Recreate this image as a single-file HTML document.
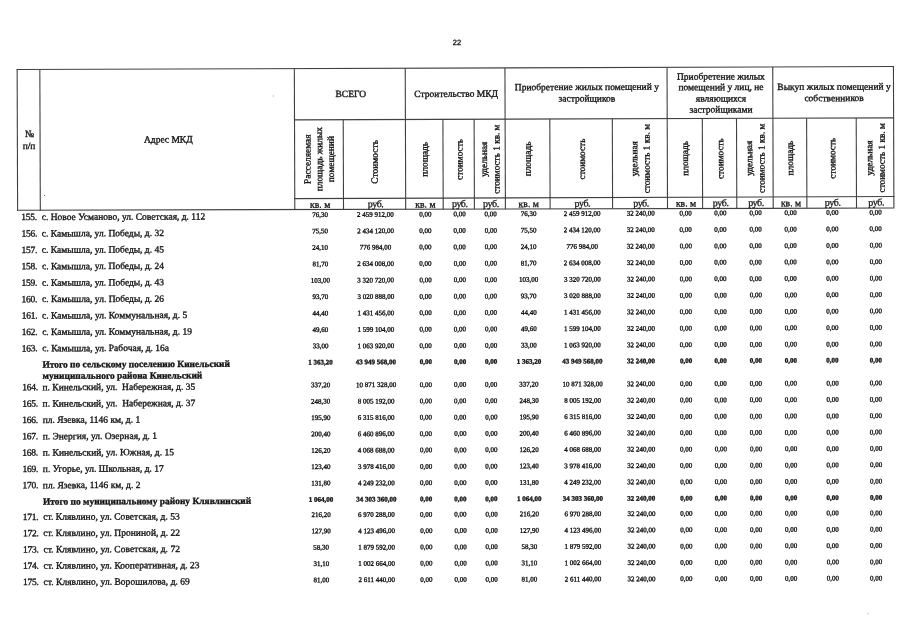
<!DOCTYPE html>
<html lang="ru"><head><meta charset="utf-8"><title>22</title>
<style>
html,body{margin:0;padding:0;background:#fff}
body{width:905px;height:640px;overflow:hidden}
svg{display:block;font-family:"Liberation Serif",serif}
text{white-space:pre}
.b{font-weight:bold}
.s{font-family:"Liberation Sans",sans-serif}
</style></head><body>
<svg width="905" height="640" viewBox="0 0 905 640">
<g transform="rotate(-0.195)">
<g fill="#404040">
<rect x="16.35" y="69.05" width="877.4" height="1.1"/>
<rect x="293.55" y="120.35" width="600.2" height="1.1"/>
<rect x="293.55" y="199.05" width="600.2" height="1.1"/>
<path d="M16.4 210.3L893.7 211.1" stroke="#404040" stroke-width="1.1" fill="none"/>
<rect x="16.35" y="69.6" width="1.1" height="141.3"/>
<rect x="39.05" y="69.6" width="1.1" height="141.3"/>
<rect x="293.55" y="69.6" width="1.1" height="141.3"/>
<rect x="342.25" y="120.9" width="1.1" height="90"/>
<rect x="404.45" y="69.6" width="1.1" height="141.3"/>
<rect x="441.95" y="120.9" width="1.1" height="90"/>
<rect x="473.15" y="120.9" width="1.1" height="90"/>
<rect x="504.15" y="69.6" width="1.1" height="141.3"/>
<rect x="548.85" y="120.9" width="1.1" height="90"/>
<rect x="611.35" y="120.9" width="1.1" height="90"/>
<rect x="666.25" y="69.6" width="1.1" height="141.3"/>
<rect x="701.35" y="120.9" width="1.1" height="90"/>
<rect x="735.55" y="120.9" width="1.1" height="90"/>
<rect x="771.95" y="69.6" width="1.1" height="141.3"/>
<rect x="805.65" y="120.9" width="1.1" height="90"/>
<rect x="855.25" y="120.9" width="1.1" height="90"/>
<rect x="892.65" y="69.6" width="1.1" height="141.3"/>
<rect x="272.5" y="96.5" width="1" height="1" fill="#888"/>
<rect x="43.4" y="195.1" width="1" height="1" fill="#666"/>
<rect x="865.5" y="616.3" width="1" height="1" fill="#999"/>
</g>
<g fill="#151515" stroke="#151515" stroke-width="0.35">
<text x="456.85" y="46.5" font-size="7.5" text-anchor="middle" class="s">22</text>
<text x="29.15" y="137.2" font-size="9.5" text-anchor="middle">№</text>
<text x="28.55" y="149" font-size="9.5" text-anchor="middle">п/п</text>
<text x="167.85" y="143" font-size="9.5" text-anchor="middle">Адрес МКД</text>
<text x="350.45" y="98.2" font-size="9.5" text-anchor="middle">ВСЕГО</text>
<text x="455.85" y="98.4" font-size="9.5" text-anchor="middle">Строительство МКД</text>
<text x="586.55" y="92" font-size="9.5" text-anchor="middle">Приобретение жилых помещений у</text>
<text x="586.55" y="103.5" font-size="9.5" text-anchor="middle">застройщиков</text>
<text x="720.65" y="82" font-size="9.5" text-anchor="middle">Приобретение жилых</text>
<text x="720.65" y="92.6" font-size="9.5" text-anchor="middle">помещений у лиц, не</text>
<text x="720.65" y="104" font-size="9.5" text-anchor="middle">являющихся</text>
<text x="720.65" y="115" font-size="9.5" text-anchor="middle">застройщиками</text>
<text x="833.75" y="92.6" font-size="9.5" text-anchor="middle" style="letter-spacing:0.02px">Выкуп жилых помещений у</text>
<text x="833.75" y="104" font-size="9.5" text-anchor="middle">собственников</text>
<text transform="translate(309.95 160.25) rotate(-90)" font-size="9.4" text-anchor="middle">Расселяемая</text>
<text transform="translate(321.65 160.25) rotate(-90)" font-size="9.4" text-anchor="middle">площадь жилых</text>
<text transform="translate(333.35 160.25) rotate(-90)" font-size="9.4" text-anchor="middle">помещений</text>
<text transform="translate(377.2 163.15) rotate(-90)" font-size="9.5" text-anchor="middle">Стоимость</text>
<text transform="translate(426.95 160.75) rotate(-90)" font-size="9.4" text-anchor="middle">площадь</text>
<text transform="translate(461.9 161.05) rotate(-90)" font-size="9.3" text-anchor="middle">стоимость</text>
<text transform="translate(486.5 160.85) rotate(-90)" font-size="9.25" text-anchor="middle">удельная</text>
<text transform="translate(498.9 160.85) rotate(-90)" font-size="9.25" text-anchor="middle">стоимость 1 кв. м</text>
<text transform="translate(530.25 160.75) rotate(-90)" font-size="9.4" text-anchor="middle">площадь</text>
<text transform="translate(584.45 161.05) rotate(-90)" font-size="9.3" text-anchor="middle">стоимость</text>
<text transform="translate(636.65 160.85) rotate(-90)" font-size="9.25" text-anchor="middle">удельная</text>
<text transform="translate(649.05 160.85) rotate(-90)" font-size="9.25" text-anchor="middle">стоимость 1 кв. м</text>
<text transform="translate(687.55 160.75) rotate(-90)" font-size="9.4" text-anchor="middle">площадь</text>
<text transform="translate(722.8 161.05) rotate(-90)" font-size="9.3" text-anchor="middle">стоимость</text>
<text transform="translate(751.6 160.85) rotate(-90)" font-size="9.25" text-anchor="middle">удельная</text>
<text transform="translate(764 160.85) rotate(-90)" font-size="9.25" text-anchor="middle">стоимость 1 кв. м</text>
<text transform="translate(792.55 160.75) rotate(-90)" font-size="9.4" text-anchor="middle">площадь</text>
<text transform="translate(834.8 161.05) rotate(-90)" font-size="9.3" text-anchor="middle">стоимость</text>
<text transform="translate(871.8 160.85) rotate(-90)" font-size="9.25" text-anchor="middle">удельная</text>
<text transform="translate(884.2 160.85) rotate(-90)" font-size="9.25" text-anchor="middle">стоимость 1 кв. м</text>
<text x="319.45" y="208.9" font-size="9.7" text-anchor="middle" style="stroke-width:0.3">кв. м</text>
<text x="374.9" y="208.6" font-size="10" text-anchor="middle" style="letter-spacing:-0.4px;stroke-width:0.28">руб.</text>
<text x="424.75" y="208.9" font-size="9.7" text-anchor="middle" style="stroke-width:0.3">кв. м</text>
<text x="459.1" y="208.6" font-size="10" text-anchor="middle" style="letter-spacing:-0.4px;stroke-width:0.28">руб.</text>
<text x="490.2" y="208.6" font-size="10" text-anchor="middle" style="letter-spacing:-0.4px;stroke-width:0.28">руб.</text>
<text x="528.05" y="208.9" font-size="9.7" text-anchor="middle" style="stroke-width:0.3">кв. м</text>
<text x="581.65" y="208.6" font-size="10" text-anchor="middle" style="letter-spacing:-0.4px;stroke-width:0.28">руб.</text>
<text x="640.35" y="208.6" font-size="10" text-anchor="middle" style="letter-spacing:-0.4px;stroke-width:0.28">руб.</text>
<text x="685.35" y="208.9" font-size="9.7" text-anchor="middle" style="stroke-width:0.3">кв. м</text>
<text x="720" y="208.6" font-size="10" text-anchor="middle" style="letter-spacing:-0.4px;stroke-width:0.28">руб.</text>
<text x="755.3" y="208.6" font-size="10" text-anchor="middle" style="letter-spacing:-0.4px;stroke-width:0.28">руб.</text>
<text x="790.35" y="208.9" font-size="9.7" text-anchor="middle" style="stroke-width:0.3">кв. м</text>
<text x="832" y="208.6" font-size="10" text-anchor="middle" style="letter-spacing:-0.4px;stroke-width:0.28">руб.</text>
<text x="875.5" y="208.6" font-size="10" text-anchor="middle" style="letter-spacing:-0.4px;stroke-width:0.28">руб.</text>
<text x="20.6" y="220.2" font-size="9.5" style="letter-spacing:-0.25px">155.</text>
<text x="41" y="220.2" font-size="9.5">с. Новое Усманово, ул. Советская, д. 112</text>
<text x="319.35" y="218.02" font-size="7" text-anchor="middle">76,30</text>
<text x="374.76" y="217.98" font-size="7" text-anchor="middle">2 459 912,00</text>
<text x="424.57" y="217.94" font-size="7" text-anchor="middle">0,00</text>
<text x="458.9" y="217.92" font-size="7" text-anchor="middle">0,00</text>
<text x="489.98" y="217.89" font-size="7" text-anchor="middle">0,00</text>
<text x="527.8" y="217.87" font-size="7" text-anchor="middle">76,30</text>
<text x="581.36" y="217.83" font-size="7" text-anchor="middle">2 459 912,00</text>
<text x="640.02" y="217.78" font-size="7" text-anchor="middle">32 240,00</text>
<text x="684.99" y="217.75" font-size="7" text-anchor="middle">0,00</text>
<text x="719.61" y="217.72" font-size="7" text-anchor="middle">0,00</text>
<text x="754.89" y="217.7" font-size="7" text-anchor="middle">0,00</text>
<text x="789.91" y="217.67" font-size="7" text-anchor="middle">0,00</text>
<text x="831.53" y="217.64" font-size="7" text-anchor="middle">0,00</text>
<text x="875" y="217.61" font-size="7" text-anchor="middle">0,00</text>
<text x="20.6" y="236.61" font-size="9.5" style="letter-spacing:-0.25px">156.</text>
<text x="41" y="236.61" font-size="9.5">с. Камышла, ул. Победы, д. 32</text>
<text x="319.35" y="234.45" font-size="7" text-anchor="middle">75,50</text>
<text x="374.76" y="234.41" font-size="7" text-anchor="middle">2 434 120,00</text>
<text x="424.57" y="234.37" font-size="7" text-anchor="middle">0,00</text>
<text x="458.89" y="234.35" font-size="7" text-anchor="middle">0,00</text>
<text x="489.97" y="234.33" font-size="7" text-anchor="middle">0,00</text>
<text x="527.79" y="234.3" font-size="7" text-anchor="middle">75,50</text>
<text x="581.35" y="234.26" font-size="7" text-anchor="middle">2 434 120,00</text>
<text x="640" y="234.22" font-size="7" text-anchor="middle">32 240,00</text>
<text x="684.96" y="234.19" font-size="7" text-anchor="middle">0,00</text>
<text x="719.59" y="234.17" font-size="7" text-anchor="middle">0,00</text>
<text x="754.86" y="234.14" font-size="7" text-anchor="middle">0,00</text>
<text x="789.88" y="234.12" font-size="7" text-anchor="middle">0,00</text>
<text x="831.5" y="234.09" font-size="7" text-anchor="middle">0,00</text>
<text x="874.96" y="234.06" font-size="7" text-anchor="middle">0,00</text>
<text x="20.6" y="253.02" font-size="9.5" style="letter-spacing:-0.25px">157.</text>
<text x="41" y="253.02" font-size="9.5">с. Камышла, ул. Победы, д. 45</text>
<text x="319.35" y="250.87" font-size="7" text-anchor="middle">24,10</text>
<text x="374.75" y="250.84" font-size="7" text-anchor="middle">776 984,00</text>
<text x="424.56" y="250.8" font-size="7" text-anchor="middle">0,00</text>
<text x="458.88" y="250.78" font-size="7" text-anchor="middle">0,00</text>
<text x="489.96" y="250.76" font-size="7" text-anchor="middle">0,00</text>
<text x="527.77" y="250.74" font-size="7" text-anchor="middle">24,10</text>
<text x="581.33" y="250.7" font-size="7" text-anchor="middle">776 984,00</text>
<text x="639.98" y="250.66" font-size="7" text-anchor="middle">32 240,00</text>
<text x="684.94" y="250.63" font-size="7" text-anchor="middle">0,00</text>
<text x="719.56" y="250.61" font-size="7" text-anchor="middle">0,00</text>
<text x="754.83" y="250.59" font-size="7" text-anchor="middle">0,00</text>
<text x="789.85" y="250.57" font-size="7" text-anchor="middle">0,00</text>
<text x="831.47" y="250.54" font-size="7" text-anchor="middle">0,00</text>
<text x="874.93" y="250.51" font-size="7" text-anchor="middle">0,00</text>
<text x="20.6" y="269.43" font-size="9.5" style="letter-spacing:-0.25px">158.</text>
<text x="41" y="269.43" font-size="9.5">с. Камышла, ул. Победы, д. 24</text>
<text x="319.35" y="267.3" font-size="7" text-anchor="middle">81,70</text>
<text x="374.75" y="267.26" font-size="7" text-anchor="middle">2 634 008,00</text>
<text x="424.55" y="267.23" font-size="7" text-anchor="middle">0,00</text>
<text x="458.87" y="267.21" font-size="7" text-anchor="middle">0,00</text>
<text x="489.95" y="267.19" font-size="7" text-anchor="middle">0,00</text>
<text x="527.76" y="267.17" font-size="7" text-anchor="middle">81,70</text>
<text x="581.31" y="267.14" font-size="7" text-anchor="middle">2 634 008,00</text>
<text x="639.96" y="267.1" font-size="7" text-anchor="middle">32 240,00</text>
<text x="684.92" y="267.08" font-size="7" text-anchor="middle">0,00</text>
<text x="719.54" y="267.06" font-size="7" text-anchor="middle">0,00</text>
<text x="754.8" y="267.03" font-size="7" text-anchor="middle">0,00</text>
<text x="789.82" y="267.01" font-size="7" text-anchor="middle">0,00</text>
<text x="831.43" y="266.99" font-size="7" text-anchor="middle">0,00</text>
<text x="874.89" y="266.96" font-size="7" text-anchor="middle">0,00</text>
<text x="20.6" y="285.84" font-size="9.5" style="letter-spacing:-0.25px">159.</text>
<text x="41" y="285.84" font-size="9.5">с. Камышла, ул. Победы, д. 43</text>
<text x="319.35" y="283.72" font-size="7" text-anchor="middle">103,00</text>
<text x="374.75" y="283.69" font-size="7" text-anchor="middle">3 320 720,00</text>
<text x="424.55" y="283.67" font-size="7" text-anchor="middle">0,00</text>
<text x="458.86" y="283.65" font-size="7" text-anchor="middle">0,00</text>
<text x="489.93" y="283.63" font-size="7" text-anchor="middle">0,00</text>
<text x="527.75" y="283.61" font-size="7" text-anchor="middle">103,00</text>
<text x="581.3" y="283.58" font-size="7" text-anchor="middle">3 320 720,00</text>
<text x="639.94" y="283.54" font-size="7" text-anchor="middle">32 240,00</text>
<text x="684.89" y="283.52" font-size="7" text-anchor="middle">0,00</text>
<text x="719.51" y="283.5" font-size="7" text-anchor="middle">0,00</text>
<text x="754.78" y="283.48" font-size="7" text-anchor="middle">0,00</text>
<text x="789.79" y="283.46" font-size="7" text-anchor="middle">0,00</text>
<text x="831.4" y="283.44" font-size="7" text-anchor="middle">0,00</text>
<text x="874.86" y="283.41" font-size="7" text-anchor="middle">0,00</text>
<text x="20.6" y="302.25" font-size="9.5" style="letter-spacing:-0.25px">160.</text>
<text x="41" y="302.25" font-size="9.5">с. Камышла, ул. Победы, д. 26</text>
<text x="319.35" y="300.15" font-size="7" text-anchor="middle">93,70</text>
<text x="374.74" y="300.12" font-size="7" text-anchor="middle">3 020 888,00</text>
<text x="424.54" y="300.1" font-size="7" text-anchor="middle">0,00</text>
<text x="458.86" y="300.08" font-size="7" text-anchor="middle">0,00</text>
<text x="489.92" y="300.06" font-size="7" text-anchor="middle">0,00</text>
<text x="527.73" y="300.04" font-size="7" text-anchor="middle">93,70</text>
<text x="581.28" y="300.02" font-size="7" text-anchor="middle">3 020 888,00</text>
<text x="639.92" y="299.99" font-size="7" text-anchor="middle">32 240,00</text>
<text x="684.87" y="299.96" font-size="7" text-anchor="middle">0,00</text>
<text x="719.49" y="299.94" font-size="7" text-anchor="middle">0,00</text>
<text x="754.75" y="299.93" font-size="7" text-anchor="middle">0,00</text>
<text x="789.76" y="299.91" font-size="7" text-anchor="middle">0,00</text>
<text x="831.37" y="299.89" font-size="7" text-anchor="middle">0,00</text>
<text x="874.82" y="299.86" font-size="7" text-anchor="middle">0,00</text>
<text x="20.6" y="318.66" font-size="9.5" style="letter-spacing:-0.25px">161.</text>
<text x="41" y="318.66" font-size="9.5">с. Камышла, ул. Коммунальная, д. 5</text>
<text x="319.35" y="316.58" font-size="7" text-anchor="middle">44,40</text>
<text x="374.74" y="316.55" font-size="7" text-anchor="middle">1 431 456,00</text>
<text x="424.53" y="316.53" font-size="7" text-anchor="middle">0,00</text>
<text x="458.85" y="316.51" font-size="7" text-anchor="middle">0,00</text>
<text x="489.91" y="316.5" font-size="7" text-anchor="middle">0,00</text>
<text x="527.72" y="316.48" font-size="7" text-anchor="middle">44,40</text>
<text x="581.26" y="316.45" font-size="7" text-anchor="middle">1 431 456,00</text>
<text x="639.9" y="316.43" font-size="7" text-anchor="middle">32 240,00</text>
<text x="684.85" y="316.4" font-size="7" text-anchor="middle">0,00</text>
<text x="719.46" y="316.39" font-size="7" text-anchor="middle">0,00</text>
<text x="754.72" y="316.37" font-size="7" text-anchor="middle">0,00</text>
<text x="789.73" y="316.36" font-size="7" text-anchor="middle">0,00</text>
<text x="831.34" y="316.34" font-size="7" text-anchor="middle">0,00</text>
<text x="874.79" y="316.32" font-size="7" text-anchor="middle">0,00</text>
<text x="20.6" y="335.07" font-size="9.5" style="letter-spacing:-0.25px">162.</text>
<text x="41" y="335.07" font-size="9.5">с. Камышла, ул. Коммунальная, д. 19</text>
<text x="319.35" y="333" font-size="7" text-anchor="middle">49,60</text>
<text x="374.74" y="332.98" font-size="7" text-anchor="middle">1 599 104,00</text>
<text x="424.53" y="332.96" font-size="7" text-anchor="middle">0,00</text>
<text x="458.84" y="332.94" font-size="7" text-anchor="middle">0,00</text>
<text x="489.9" y="332.93" font-size="7" text-anchor="middle">0,00</text>
<text x="527.71" y="332.91" font-size="7" text-anchor="middle">49,60</text>
<text x="581.25" y="332.89" font-size="7" text-anchor="middle">1 599 104,00</text>
<text x="639.88" y="332.87" font-size="7" text-anchor="middle">32 240,00</text>
<text x="684.83" y="332.85" font-size="7" text-anchor="middle">0,00</text>
<text x="719.43" y="332.83" font-size="7" text-anchor="middle">0,00</text>
<text x="754.69" y="332.82" font-size="7" text-anchor="middle">0,00</text>
<text x="789.7" y="332.8" font-size="7" text-anchor="middle">0,00</text>
<text x="831.3" y="332.78" font-size="7" text-anchor="middle">0,00</text>
<text x="874.75" y="332.77" font-size="7" text-anchor="middle">0,00</text>
<text x="20.6" y="351.48" font-size="9.5" style="letter-spacing:-0.25px">163.</text>
<text x="41" y="351.48" font-size="9.5">с. Камышла, ул. Рабочая, д. 16а</text>
<text x="319.35" y="349.43" font-size="7" text-anchor="middle">33,00</text>
<text x="374.73" y="349.41" font-size="7" text-anchor="middle">1 063 920,00</text>
<text x="424.52" y="349.39" font-size="7" text-anchor="middle">0,00</text>
<text x="458.83" y="349.38" font-size="7" text-anchor="middle">0,00</text>
<text x="489.89" y="349.36" font-size="7" text-anchor="middle">0,00</text>
<text x="527.7" y="349.35" font-size="7" text-anchor="middle">33,00</text>
<text x="581.23" y="349.33" font-size="7" text-anchor="middle">1 063 920,00</text>
<text x="639.86" y="349.31" font-size="7" text-anchor="middle">32 240,00</text>
<text x="684.8" y="349.29" font-size="7" text-anchor="middle">0,00</text>
<text x="719.41" y="349.28" font-size="7" text-anchor="middle">0,00</text>
<text x="754.67" y="349.26" font-size="7" text-anchor="middle">0,00</text>
<text x="789.67" y="349.25" font-size="7" text-anchor="middle">0,00</text>
<text x="831.27" y="349.23" font-size="7" text-anchor="middle">0,00</text>
<text x="874.72" y="349.22" font-size="7" text-anchor="middle">0,00</text>
<text x="41.2" y="367.6" font-size="9.43" class="b">Итого по сельскому поселению Кинельский</text>
<text x="41.2" y="379" font-size="9.43" class="b">муниципального района Кинельский</text>
<text x="319.35" y="365.57" font-size="7" text-anchor="middle" class="b">1 363,20</text>
<text x="374.73" y="365.55" font-size="7" text-anchor="middle" class="b">43 949 568,00</text>
<text x="424.52" y="365.53" font-size="7" text-anchor="middle" class="b">0,00</text>
<text x="458.82" y="365.52" font-size="7" text-anchor="middle" class="b">0,00</text>
<text x="489.88" y="365.51" font-size="7" text-anchor="middle" class="b">0,00</text>
<text x="527.68" y="365.5" font-size="7" text-anchor="middle" class="b">1 363,20</text>
<text x="581.21" y="365.48" font-size="7" text-anchor="middle" class="b">43 949 568,00</text>
<text x="639.84" y="365.46" font-size="7" text-anchor="middle" class="b">32 240,00</text>
<text x="684.78" y="365.44" font-size="7" text-anchor="middle" class="b">0,00</text>
<text x="719.38" y="365.43" font-size="7" text-anchor="middle" class="b">0,00</text>
<text x="754.64" y="365.42" font-size="7" text-anchor="middle" class="b">0,00</text>
<text x="789.64" y="365.41" font-size="7" text-anchor="middle" class="b">0,00</text>
<text x="831.24" y="365.39" font-size="7" text-anchor="middle" class="b">0,00</text>
<text x="874.68" y="365.38" font-size="7" text-anchor="middle" class="b">0,00</text>
<text x="20.8" y="390.4" font-size="9.5" style="letter-spacing:-0.25px">164.</text>
<text x="41.2" y="390.4" font-size="9.5">п. Кинельский, ул.&#160; Набережная, д. 35</text>
<text x="319.35" y="388.39" font-size="7" text-anchor="middle">337,20</text>
<text x="374.72" y="388.37" font-size="7" text-anchor="middle">10 871 328,00</text>
<text x="424.51" y="388.36" font-size="7" text-anchor="middle">0,00</text>
<text x="458.81" y="388.35" font-size="7" text-anchor="middle">0,00</text>
<text x="489.87" y="388.34" font-size="7" text-anchor="middle">0,00</text>
<text x="527.66" y="388.33" font-size="7" text-anchor="middle">337,20</text>
<text x="581.19" y="388.32" font-size="7" text-anchor="middle">10 871 328,00</text>
<text x="639.81" y="388.3" font-size="7" text-anchor="middle">32 240,00</text>
<text x="684.75" y="388.29" font-size="7" text-anchor="middle">0,00</text>
<text x="719.35" y="388.28" font-size="7" text-anchor="middle">0,00</text>
<text x="754.6" y="388.27" font-size="7" text-anchor="middle">0,00</text>
<text x="789.6" y="388.26" font-size="7" text-anchor="middle">0,00</text>
<text x="831.2" y="388.25" font-size="7" text-anchor="middle">0,00</text>
<text x="874.64" y="388.23" font-size="7" text-anchor="middle">0,00</text>
<text x="20.8" y="406.73" font-size="9.5" style="letter-spacing:-0.25px">165.</text>
<text x="41.2" y="406.73" font-size="9.5">п. Кинельский, ул.&#160; Набережная, д. 37</text>
<text x="319.35" y="404.73" font-size="7" text-anchor="middle">248,30</text>
<text x="374.72" y="404.72" font-size="7" text-anchor="middle">8 005 192,00</text>
<text x="424.5" y="404.71" font-size="7" text-anchor="middle">0,00</text>
<text x="458.8" y="404.7" font-size="7" text-anchor="middle">0,00</text>
<text x="489.86" y="404.7" font-size="7" text-anchor="middle">0,00</text>
<text x="527.65" y="404.69" font-size="7" text-anchor="middle">248,30</text>
<text x="581.17" y="404.67" font-size="7" text-anchor="middle">8 005 192,00</text>
<text x="639.79" y="404.66" font-size="7" text-anchor="middle">32 240,00</text>
<text x="684.72" y="404.65" font-size="7" text-anchor="middle">0,00</text>
<text x="719.32" y="404.64" font-size="7" text-anchor="middle">0,00</text>
<text x="754.57" y="404.63" font-size="7" text-anchor="middle">0,00</text>
<text x="789.57" y="404.63" font-size="7" text-anchor="middle">0,00</text>
<text x="831.16" y="404.62" font-size="7" text-anchor="middle">0,00</text>
<text x="874.6" y="404.61" font-size="7" text-anchor="middle">0,00</text>
<text x="20.8" y="423.06" font-size="9.5" style="letter-spacing:-0.25px">166.</text>
<text x="41.2" y="423.06" font-size="9.5">пл. Язевка, 1146 км, д. 1</text>
<text x="319.35" y="421.08" font-size="7" text-anchor="middle">195,90</text>
<text x="374.72" y="421.07" font-size="7" text-anchor="middle">6 315 816,00</text>
<text x="424.49" y="421.06" font-size="7" text-anchor="middle">0,00</text>
<text x="458.79" y="421.05" font-size="7" text-anchor="middle">0,00</text>
<text x="489.84" y="421.05" font-size="7" text-anchor="middle">0,00</text>
<text x="527.64" y="421.04" font-size="7" text-anchor="middle">195,90</text>
<text x="581.16" y="421.03" font-size="7" text-anchor="middle">6 315 816,00</text>
<text x="639.77" y="421.02" font-size="7" text-anchor="middle">32 240,00</text>
<text x="684.7" y="421.01" font-size="7" text-anchor="middle">0,00</text>
<text x="719.3" y="421.01" font-size="7" text-anchor="middle">0,00</text>
<text x="754.55" y="421" font-size="7" text-anchor="middle">0,00</text>
<text x="789.54" y="420.99" font-size="7" text-anchor="middle">0,00</text>
<text x="831.13" y="420.98" font-size="7" text-anchor="middle">0,00</text>
<text x="874.57" y="420.98" font-size="7" text-anchor="middle">0,00</text>
<text x="20.8" y="439.39" font-size="9.5" style="letter-spacing:-0.25px">167.</text>
<text x="41.2" y="439.39" font-size="9.5">п. Энергия, ул. Озерная, д. 1</text>
<text x="319.35" y="437.43" font-size="7" text-anchor="middle">200,40</text>
<text x="374.71" y="437.42" font-size="7" text-anchor="middle">6 460 896,00</text>
<text x="424.49" y="437.41" font-size="7" text-anchor="middle">0,00</text>
<text x="458.78" y="437.41" font-size="7" text-anchor="middle">0,00</text>
<text x="489.83" y="437.4" font-size="7" text-anchor="middle">0,00</text>
<text x="527.62" y="437.4" font-size="7" text-anchor="middle">200,40</text>
<text x="581.14" y="437.39" font-size="7" text-anchor="middle">6 460 896,00</text>
<text x="639.75" y="437.38" font-size="7" text-anchor="middle">32 240,00</text>
<text x="684.68" y="437.37" font-size="7" text-anchor="middle">0,00</text>
<text x="719.27" y="437.37" font-size="7" text-anchor="middle">0,00</text>
<text x="754.52" y="437.36" font-size="7" text-anchor="middle">0,00</text>
<text x="789.51" y="437.36" font-size="7" text-anchor="middle">0,00</text>
<text x="831.1" y="437.35" font-size="7" text-anchor="middle">0,00</text>
<text x="874.53" y="437.35" font-size="7" text-anchor="middle">0,00</text>
<text x="20.8" y="455.72" font-size="9.5" style="letter-spacing:-0.25px">168.</text>
<text x="41.2" y="455.72" font-size="9.5">п. Кинельский, ул. Южная, д. 15</text>
<text x="319.35" y="453.77" font-size="7" text-anchor="middle">126,20</text>
<text x="374.71" y="453.77" font-size="7" text-anchor="middle">4 068 688,00</text>
<text x="424.48" y="453.76" font-size="7" text-anchor="middle">0,00</text>
<text x="458.77" y="453.76" font-size="7" text-anchor="middle">0,00</text>
<text x="489.82" y="453.76" font-size="7" text-anchor="middle">0,00</text>
<text x="527.61" y="453.75" font-size="7" text-anchor="middle">126,20</text>
<text x="581.12" y="453.75" font-size="7" text-anchor="middle">4 068 688,00</text>
<text x="639.73" y="453.74" font-size="7" text-anchor="middle">32 240,00</text>
<text x="684.66" y="453.74" font-size="7" text-anchor="middle">0,00</text>
<text x="719.25" y="453.73" font-size="7" text-anchor="middle">0,00</text>
<text x="754.49" y="453.73" font-size="7" text-anchor="middle">0,00</text>
<text x="789.48" y="453.73" font-size="7" text-anchor="middle">0,00</text>
<text x="831.07" y="453.72" font-size="7" text-anchor="middle">0,00</text>
<text x="874.5" y="453.72" font-size="7" text-anchor="middle">0,00</text>
<text x="20.8" y="472.05" font-size="9.5" style="letter-spacing:-0.25px">169.</text>
<text x="41.2" y="472.05" font-size="9.5">п. Угорье, ул. Школьная, д. 17</text>
<text x="319.35" y="470.12" font-size="7" text-anchor="middle">123,40</text>
<text x="374.71" y="470.12" font-size="7" text-anchor="middle">3 978 416,00</text>
<text x="424.47" y="470.11" font-size="7" text-anchor="middle">0,00</text>
<text x="458.76" y="470.11" font-size="7" text-anchor="middle">0,00</text>
<text x="489.81" y="470.11" font-size="7" text-anchor="middle">0,00</text>
<text x="527.6" y="470.11" font-size="7" text-anchor="middle">123,40</text>
<text x="581.11" y="470.11" font-size="7" text-anchor="middle">3 978 416,00</text>
<text x="639.71" y="470.1" font-size="7" text-anchor="middle">32 240,00</text>
<text x="684.63" y="470.1" font-size="7" text-anchor="middle">0,00</text>
<text x="719.22" y="470.1" font-size="7" text-anchor="middle">0,00</text>
<text x="754.46" y="470.1" font-size="7" text-anchor="middle">0,00</text>
<text x="789.45" y="470.09" font-size="7" text-anchor="middle">0,00</text>
<text x="831.03" y="470.09" font-size="7" text-anchor="middle">0,00</text>
<text x="874.46" y="470.09" font-size="7" text-anchor="middle">0,00</text>
<text x="20.8" y="488.38" font-size="9.5" style="letter-spacing:-0.25px">170.</text>
<text x="41.2" y="488.38" font-size="9.5">пл. Язевка, 1146 км, д. 2</text>
<text x="319.35" y="486.47" font-size="7" text-anchor="middle">131,80</text>
<text x="374.7" y="486.47" font-size="7" text-anchor="middle">4 249 232,00</text>
<text x="424.47" y="486.47" font-size="7" text-anchor="middle">0,00</text>
<text x="458.76" y="486.46" font-size="7" text-anchor="middle">0,00</text>
<text x="489.8" y="486.46" font-size="7" text-anchor="middle">0,00</text>
<text x="527.59" y="486.46" font-size="7" text-anchor="middle">131,80</text>
<text x="581.09" y="486.46" font-size="7" text-anchor="middle">4 249 232,00</text>
<text x="639.69" y="486.46" font-size="7" text-anchor="middle">32 240,00</text>
<text x="684.61" y="486.46" font-size="7" text-anchor="middle">0,00</text>
<text x="719.2" y="486.46" font-size="7" text-anchor="middle">0,00</text>
<text x="754.44" y="486.46" font-size="7" text-anchor="middle">0,00</text>
<text x="789.43" y="486.46" font-size="7" text-anchor="middle">0,00</text>
<text x="831" y="486.46" font-size="7" text-anchor="middle">0,00</text>
<text x="874.43" y="486.46" font-size="7" text-anchor="middle">0,00</text>
<text x="41.2" y="504.7" font-size="9.43" class="b">Итого по муниципальному району Клявлинский</text>
<text x="319.35" y="502.8" font-size="7" text-anchor="middle" class="b">1 064,00</text>
<text x="374.7" y="502.8" font-size="7" text-anchor="middle" class="b">34 303 360,00</text>
<text x="424.46" y="502.81" font-size="7" text-anchor="middle" class="b">0,00</text>
<text x="458.75" y="502.81" font-size="7" text-anchor="middle" class="b">0,00</text>
<text x="489.79" y="502.81" font-size="7" text-anchor="middle" class="b">0,00</text>
<text x="527.57" y="502.81" font-size="7" text-anchor="middle" class="b">1 064,00</text>
<text x="581.07" y="502.81" font-size="7" text-anchor="middle" class="b">34 303 360,00</text>
<text x="639.67" y="502.81" font-size="7" text-anchor="middle" class="b">32 240,00</text>
<text x="684.59" y="502.81" font-size="7" text-anchor="middle" class="b">0,00</text>
<text x="719.17" y="502.82" font-size="7" text-anchor="middle" class="b">0,00</text>
<text x="754.41" y="502.82" font-size="7" text-anchor="middle" class="b">0,00</text>
<text x="789.4" y="502.82" font-size="7" text-anchor="middle" class="b">0,00</text>
<text x="830.97" y="502.82" font-size="7" text-anchor="middle" class="b">0,00</text>
<text x="874.39" y="502.82" font-size="7" text-anchor="middle" class="b">0,00</text>
<text x="21.1" y="520" font-size="9.5" style="letter-spacing:-0.25px">171.</text>
<text x="41.5" y="520" font-size="9.5" style="letter-spacing:0.03px">ст. Клявлино, ул. Советская, д. 53</text>
<text x="319.35" y="518.12" font-size="7" text-anchor="middle">216,20</text>
<text x="374.7" y="518.12" font-size="7" text-anchor="middle">6 970 288,00</text>
<text x="424.45" y="518.13" font-size="7" text-anchor="middle">0,00</text>
<text x="458.74" y="518.13" font-size="7" text-anchor="middle">0,00</text>
<text x="489.78" y="518.13" font-size="7" text-anchor="middle">0,00</text>
<text x="527.56" y="518.13" font-size="7" text-anchor="middle">216,20</text>
<text x="581.06" y="518.14" font-size="7" text-anchor="middle">6 970 288,00</text>
<text x="639.65" y="518.14" font-size="7" text-anchor="middle">32 240,00</text>
<text x="684.56" y="518.14" font-size="7" text-anchor="middle">0,00</text>
<text x="719.15" y="518.15" font-size="7" text-anchor="middle">0,00</text>
<text x="754.38" y="518.15" font-size="7" text-anchor="middle">0,00</text>
<text x="789.37" y="518.15" font-size="7" text-anchor="middle">0,00</text>
<text x="830.94" y="518.16" font-size="7" text-anchor="middle">0,00</text>
<text x="874.36" y="518.16" font-size="7" text-anchor="middle">0,00</text>
<text x="21.1" y="536.28" font-size="9.5" style="letter-spacing:-0.25px">172.</text>
<text x="41.5" y="536.28" font-size="9.5" style="letter-spacing:0.03px">ст. Клявлино, ул. Прониной, д. 22</text>
<text x="319.35" y="534.41" font-size="7" text-anchor="middle">127,90</text>
<text x="374.69" y="534.42" font-size="7" text-anchor="middle">4 123 496,00</text>
<text x="424.45" y="534.43" font-size="7" text-anchor="middle">0,00</text>
<text x="458.73" y="534.43" font-size="7" text-anchor="middle">0,00</text>
<text x="489.77" y="534.43" font-size="7" text-anchor="middle">0,00</text>
<text x="527.55" y="534.44" font-size="7" text-anchor="middle">127,90</text>
<text x="581.04" y="534.44" font-size="7" text-anchor="middle">4 123 496,00</text>
<text x="639.63" y="534.45" font-size="7" text-anchor="middle">32 240,00</text>
<text x="684.54" y="534.46" font-size="7" text-anchor="middle">0,00</text>
<text x="719.12" y="534.46" font-size="7" text-anchor="middle">0,00</text>
<text x="754.36" y="534.47" font-size="7" text-anchor="middle">0,00</text>
<text x="789.34" y="534.47" font-size="7" text-anchor="middle">0,00</text>
<text x="830.91" y="534.47" font-size="7" text-anchor="middle">0,00</text>
<text x="874.32" y="534.48" font-size="7" text-anchor="middle">0,00</text>
<text x="21.1" y="552.56" font-size="9.5" style="letter-spacing:-0.25px">173.</text>
<text x="41.5" y="552.56" font-size="9.5" style="letter-spacing:0.03px">ст. Клявлино, ул. Советская, д. 72</text>
<text x="319.35" y="550.71" font-size="7" text-anchor="middle">58,30</text>
<text x="374.69" y="550.72" font-size="7" text-anchor="middle">1 879 592,00</text>
<text x="424.44" y="550.73" font-size="7" text-anchor="middle">0,00</text>
<text x="458.72" y="550.73" font-size="7" text-anchor="middle">0,00</text>
<text x="489.76" y="550.74" font-size="7" text-anchor="middle">0,00</text>
<text x="527.53" y="550.74" font-size="7" text-anchor="middle">58,30</text>
<text x="581.03" y="550.75" font-size="7" text-anchor="middle">1 879 592,00</text>
<text x="639.61" y="550.76" font-size="7" text-anchor="middle">32 240,00</text>
<text x="684.52" y="550.77" font-size="7" text-anchor="middle">0,00</text>
<text x="719.1" y="550.77" font-size="7" text-anchor="middle">0,00</text>
<text x="754.33" y="550.78" font-size="7" text-anchor="middle">0,00</text>
<text x="789.31" y="550.79" font-size="7" text-anchor="middle">0,00</text>
<text x="830.88" y="550.79" font-size="7" text-anchor="middle">0,00</text>
<text x="874.29" y="550.8" font-size="7" text-anchor="middle">0,00</text>
<text x="21.1" y="568.84" font-size="9.5" style="letter-spacing:-0.25px">174.</text>
<text x="41.5" y="568.84" font-size="9.5" style="letter-spacing:0.03px">ст. Клявлино, ул. Кооперативная, д. 23</text>
<text x="319.35" y="567.01" font-size="7" text-anchor="middle">31,10</text>
<text x="374.69" y="567.02" font-size="7" text-anchor="middle">1 002 664,00</text>
<text x="424.43" y="567.03" font-size="7" text-anchor="middle">0,00</text>
<text x="458.71" y="567.04" font-size="7" text-anchor="middle">0,00</text>
<text x="489.75" y="567.04" font-size="7" text-anchor="middle">0,00</text>
<text x="527.52" y="567.05" font-size="7" text-anchor="middle">31,10</text>
<text x="581.01" y="567.06" font-size="7" text-anchor="middle">1 002 664,00</text>
<text x="639.59" y="567.07" font-size="7" text-anchor="middle">32 240,00</text>
<text x="684.5" y="567.08" font-size="7" text-anchor="middle">0,00</text>
<text x="719.07" y="567.09" font-size="7" text-anchor="middle">0,00</text>
<text x="754.3" y="567.1" font-size="7" text-anchor="middle">0,00</text>
<text x="789.28" y="567.1" font-size="7" text-anchor="middle">0,00</text>
<text x="830.84" y="567.11" font-size="7" text-anchor="middle">0,00</text>
<text x="874.25" y="567.12" font-size="7" text-anchor="middle">0,00</text>
<text x="21.1" y="585.12" font-size="9.5" style="letter-spacing:-0.25px">175.</text>
<text x="41.5" y="585.12" font-size="9.5" style="letter-spacing:0.03px">ст. Клявлино, ул. Ворошилова, д. 69</text>
<text x="319.35" y="583.3" font-size="7" text-anchor="middle">81,00</text>
<text x="374.68" y="583.32" font-size="7" text-anchor="middle">2 611 440,00</text>
<text x="424.43" y="583.33" font-size="7" text-anchor="middle">0,00</text>
<text x="458.7" y="583.34" font-size="7" text-anchor="middle">0,00</text>
<text x="489.74" y="583.35" font-size="7" text-anchor="middle">0,00</text>
<text x="527.51" y="583.35" font-size="7" text-anchor="middle">81,00</text>
<text x="580.99" y="583.37" font-size="7" text-anchor="middle">2 611 440,00</text>
<text x="639.57" y="583.38" font-size="7" text-anchor="middle">32 240,00</text>
<text x="684.47" y="583.39" font-size="7" text-anchor="middle">0,00</text>
<text x="719.05" y="583.4" font-size="7" text-anchor="middle">0,00</text>
<text x="754.27" y="583.41" font-size="7" text-anchor="middle">0,00</text>
<text x="789.25" y="583.42" font-size="7" text-anchor="middle">0,00</text>
<text x="830.81" y="583.43" font-size="7" text-anchor="middle">0,00</text>
<text x="874.22" y="583.44" font-size="7" text-anchor="middle">0,00</text>
</g>
</g>
</svg>
</body></html>
